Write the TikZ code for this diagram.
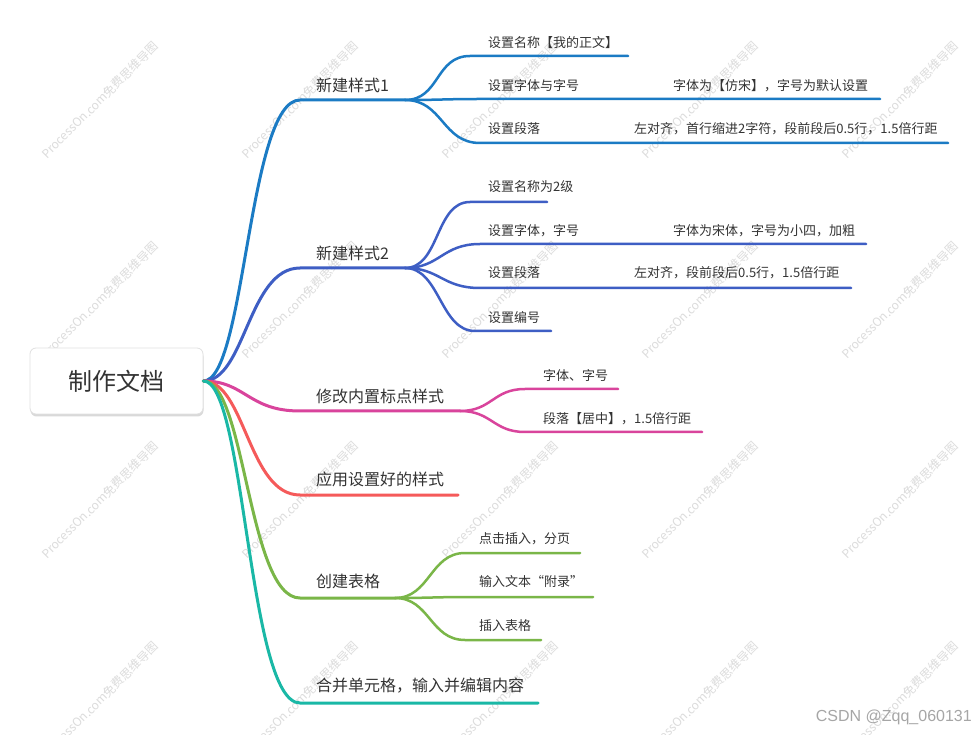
\documentclass[tikz,border=0pt]{standalone}
\usepackage{fontspec}
\setmainfont{Noto Sans CJK SC}
\newfontfamily\csdnfont{Liberation Sans}
\definecolor{txt}{HTML}{333333}
\definecolor{wmc}{HTML}{DCDCDC}
\definecolor{cA}{HTML}{1B7BC4}
\definecolor{cB}{HTML}{3E5EC4}
\definecolor{cC}{HTML}{D9449C}
\definecolor{cD}{HTML}{F55A5A}
\definecolor{cE}{HTML}{7AB648}
\definecolor{cF}{HTML}{1AB8A6}
\tikzset{
  lbl/.style={anchor=west, inner sep=0, text=txt, font=\fontsize{16}{18}\selectfont},
  sublbl/.style={anchor=west, inner sep=0, text=txt, font=\fontsize{13}{15}\selectfont},
  mainline/.style={line width=3pt, line cap=round},
  twig/.style={line width=2.5pt, line cap=round},
  wm/.style={rotate=45, text=wmc, font=\fontsize{12}{14}\selectfont, inner sep=0},
  rootbox/.style={draw=black!12, fill=white, rounded corners=6pt, line width=0.8pt,
    minimum width=173pt, minimum height=66pt, inner sep=0, text=txt,
    font=\fontsize{24}{28}\selectfont},
}
\begin{document}
\begin{tikzpicture}[x=1pt,y=-1pt]
\fill[white] (0,0) rectangle (978,735);
\useasboundingbox (0,0) rectangle (978,735);
% watermarks
\foreach \i in {0,...,4}{
  \foreach \j in {0,...,3}{
    \node[wm] (wm\i\j) at (100+200*\i,100+200*\j) {ProcessOn.com免费思维导图};
  }
}
\node[anchor=east, inner sep=0, text=black!35, font=\csdnfont\fontsize{16}{18}\selectfont] (csdn) at (972,717) {CSDN @Zqq\_060131};
% root
\fill[black!15, rounded corners=6pt] (30.5,350.5) rectangle (203.5,416.5);
\node[rootbox] (root) at (116.5,381) {制作文档};
% coordinates
\coordinate (j1) at (300,100); \coordinate (k1) at (405,100);
\coordinate (j2) at (300,268); \coordinate (k2) at (405,268);
\coordinate (j3) at (300,411); \coordinate (k3) at (460,411);
\coordinate (j4) at (300,495); \coordinate (k4) at (458,495);
\coordinate (j5) at (300,598); \coordinate (k5) at (395,598);
\coordinate (j6) at (300,703); \coordinate (k6) at (538,703);
% branch 1
\draw[mainline, cA] (root.east) .. controls +(42,0) and +(-52,0) .. (j1) -- (k1);
\node[lbl] (t1) at (316,85) {新建样式1};
\coordinate (a11) at (470,56); \coordinate (e11) at (628,56);
\coordinate (a12) at (480,99); \coordinate (e12) at (880,99);
\coordinate (a13) at (480,143); \coordinate (e13) at (948,143);
\draw[twig, cA] (k1) .. controls +(35,0) and +(-35,0) .. (a11) -- (e11);
\draw[twig, cA] (k1) .. controls +(35,0) and +(-35,0) .. (a12) -- (e12);
\draw[twig, cA] (k1) .. controls +(38,0) and +(-38,0) .. (a13) -- (e13);
\node[sublbl] (t11) at (488,43) {设置名称【我的正文】};
\node[sublbl] (t12) at (488,86) {设置字体与字号};
\node[sublbl] (t12b) at (673,86) {字体为【仿宋】，字号为默认设置};
\node[sublbl] (t13) at (488,129) {设置段落};
\node[sublbl] (t13b) at (634,129) {左对齐，首行缩进2字符，段前段后0.5行，1.5倍行距};
% branch 2
\draw[mainline, cB] (root.east) .. controls +(42,0) and +(-52,0) .. (j2) -- (k2);
\node[lbl] (t2) at (316,253) {新建样式2};
\coordinate (a21) at (470,202); \coordinate (e21) at (547,202);
\coordinate (a22) at (480,244); \coordinate (e22) at (866,244);
\coordinate (a23) at (480,288); \coordinate (e23) at (851,288);
\coordinate (a24) at (475,331); \coordinate (e24) at (551,331);
\draw[twig, cB] (k2) .. controls +(35,0) and +(-35,0) .. (a21) -- (e21);
\draw[twig, cB] (k2) .. controls +(35,0) and +(-38,0) .. (a22) -- (e22);
\draw[twig, cB] (k2) .. controls +(35,0) and +(-38,0) .. (a23) -- (e23);
\draw[twig, cB] (k2) .. controls +(35,0) and +(-35,0) .. (a24) -- (e24);
\node[sublbl] (t21) at (488,187) {设置名称为2级};
\node[sublbl] (t22) at (488,231) {设置字体，字号};
\node[sublbl] (t22b) at (673,231) {字体为宋体，字号为小四，加粗};
\node[sublbl] (t23) at (488,273) {设置段落};
\node[sublbl] (t23b) at (634,273) {左对齐，段前段后0.5行，1.5倍行距};
\node[sublbl] (t24) at (488,318) {设置编号};
% branch 3
\draw[mainline, cC] (root.east) .. controls +(42,0) and +(-52,0) .. (j3) -- (k3);
\node[lbl] (t3) at (316,396) {修改内置标点样式};
\coordinate (a31) at (525,389); \coordinate (e31) at (618,389);
\coordinate (a32) at (525,432); \coordinate (e32) at (702,432);
\draw[twig, cC] (k3) .. controls +(32,0) and +(-32,0) .. (a31) -- (e31);
\draw[twig, cC] (k3) .. controls +(32,0) and +(-32,0) .. (a32) -- (e32);
\node[sublbl] (t31) at (543,376) {字体、字号};
\node[sublbl] (t32) at (543,419) {段落【居中】，1.5倍行距};
% branch 4
\draw[mainline, cD] (root.east) .. controls +(42,0) and +(-52,0) .. (j4) -- (k4);
\node[lbl] (t4) at (316,479) {应用设置好的样式};
% branch 5
\draw[mainline, cE] (root.east) .. controls +(42,0) and +(-52,0) .. (j5) -- (k5);
\node[lbl] (t5) at (316,581) {创建表格};
\coordinate (a51) at (465,553); \coordinate (e51) at (580,553);
\coordinate (a52) at (470,597); \coordinate (e52) at (593,597);
\coordinate (a53) at (465,640); \coordinate (e53) at (541,640);
\draw[twig, cE] (k5) .. controls +(35,0) and +(-35,0) .. (a51) -- (e51);
\draw[twig, cE] (k5) .. controls +(35,0) and +(-35,0) .. (a52) -- (e52);
\draw[twig, cE] (k5) .. controls +(35,0) and +(-35,0) .. (a53) -- (e53);
\node[sublbl] (t51) at (479,539) {点击插入，分页};
\node[sublbl] (t52) at (479,582) {输入文本“附录”};
\node[sublbl] (t53) at (479,626) {插入表格};
% branch 6
\draw[mainline, cF] (root.east) .. controls +(42,0) and +(-52,0) .. (j6) -- (k6);
\node[lbl] (t6) at (316,686) {合并单元格，输入并编辑内容};
\end{tikzpicture}
\end{document}
